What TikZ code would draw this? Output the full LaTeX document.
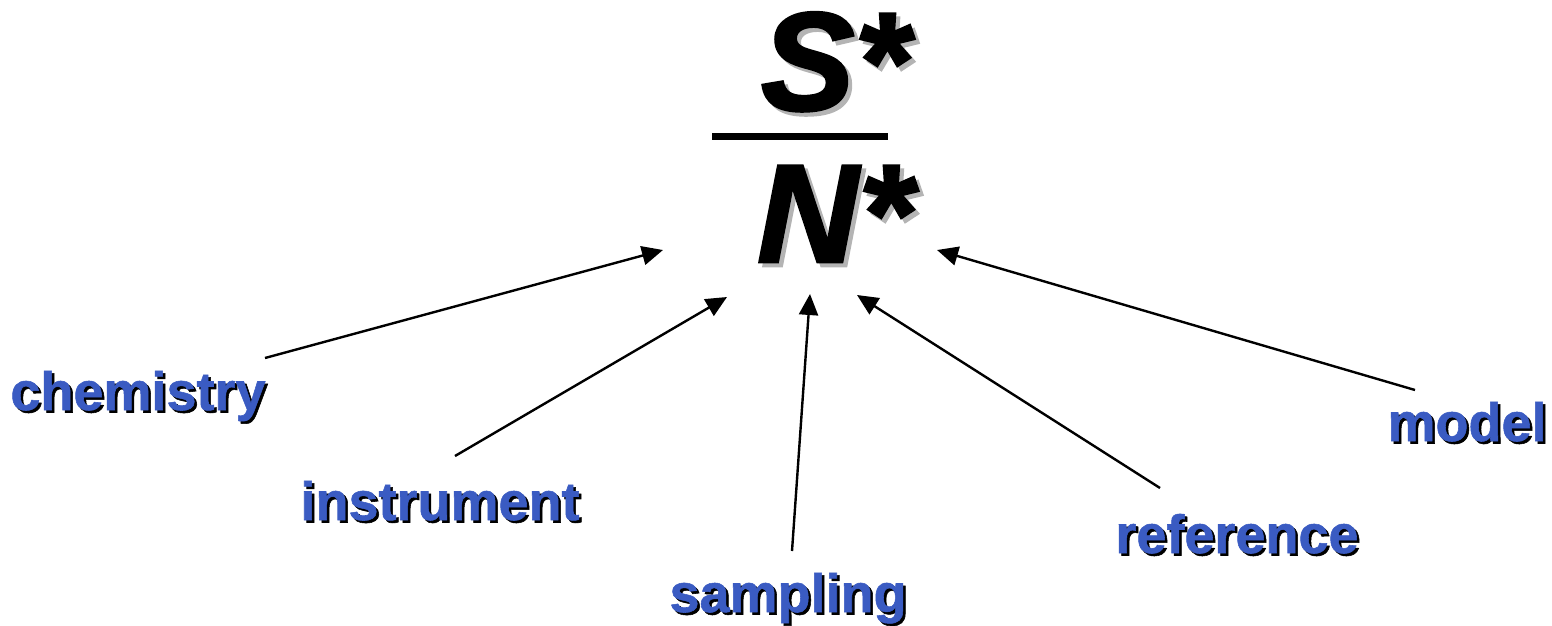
\documentclass[tikz,border=0pt]{standalone}
\usepackage{fontspec}
\setmainfont{Liberation Sans}
\newfontfamily\heavyit{Liberation Sans Bold Italic}[FakeBold=2]
\newfontfamily\heavy{Liberation Sans Bold}[FakeBold=1]
\usetikzlibrary{arrows.meta}
\definecolor{lblblue}{HTML}{3A5BC2}
\definecolor{shgray}{HTML}{B4B4B4}
\newcommand{\shadowed}[4]{\makebox[0pt][l]{\hspace{#1}\raisebox{-#1}{\color{#2}#4}}\color{#3}#4}
\tikzset{
  lbl/.style={font=\fontsize{54}{54}\heavy, inner sep=0pt, anchor=base},
  big/.style={font=\fontsize{140}{140}\heavyit, inner sep=0pt, anchor=base},
  arr/.style={-{Triangle[length=21pt,width=19pt]}, line width=2.4pt, black}
}
\begin{document}
\begin{tikzpicture}[x=1pt,y=-1pt]
\useasboundingbox (0,0) rectangle (1552,625);
% fraction
\node[big] (s) at (835,110) {\shadowed{4pt}{shgray}{black}{S*}};
\draw[line width=7pt] (712,136) -- (888,136);
\node[big] (n) at (835,262) {\shadowed{4pt}{shgray}{black}{N*}};
% labels
\node[lbl] (chem) at (138,410) {\shadowed{2.5pt}{black}{lblblue}{chemistry}};
\node[lbl] (inst) at (440,520) {\shadowed{2.5pt}{black}{lblblue}{instrument}};
\node[lbl] (samp) at (788,612) {\shadowed{2.5pt}{black}{lblblue}{sampling}};
\node[lbl] (ref) at (1237,553) {\shadowed{2.5pt}{black}{lblblue}{reference}};
\node[lbl] (mod) at (1467,441) {\shadowed{2.5pt}{black}{lblblue}{model}};
% arrow anchor points
\coordinate (c1) at (265,358);  \coordinate (t1) at (663,250);
\coordinate (c2) at (455,456);  \coordinate (t2) at (727,297);
\coordinate (c3) at (792,551);  \coordinate (t3) at (810,294);
\coordinate (c4) at (1160,488); \coordinate (t4) at (857,295);
\coordinate (c5) at (1415,390); \coordinate (t5) at (937,250);
\draw[arr] (c1) -- (t1);
\draw[arr] (c2) -- (t2);
\draw[arr] (c3) -- (t3);
\draw[arr] (c4) -- (t4);
\draw[arr] (c5) -- (t5);
\end{tikzpicture}
\end{document}
